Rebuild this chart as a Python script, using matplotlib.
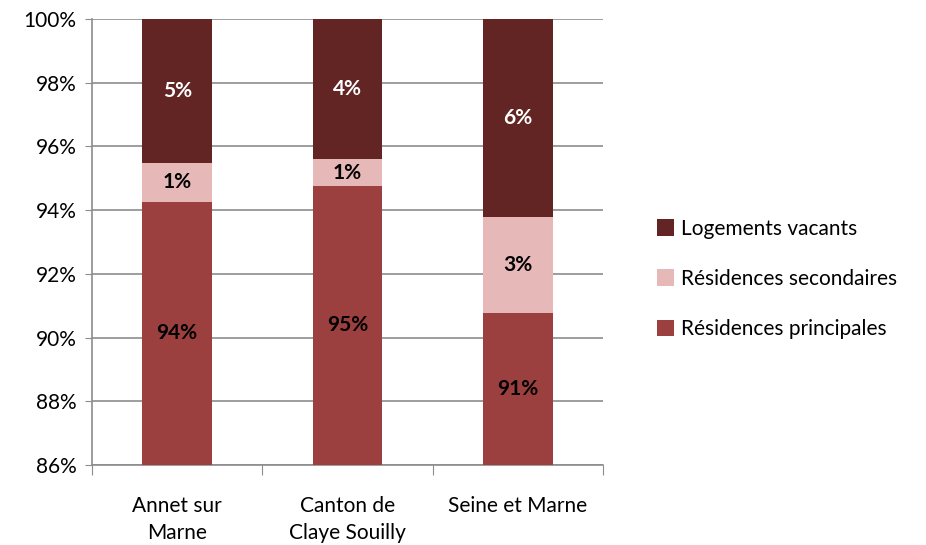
import numpy as np
import matplotlib.pyplot as plt
from matplotlib.ticker import FuncFormatter, FixedLocator, NullFormatter

plt.rcParams["font.family"] = ["Lato", "DejaVu Sans"]

# données
categories = ["Annet sur\nMarne", "Canton de\nClaye Souilly", "Seine et Marne"]
principales = [94.26, 94.76, 90.77]
secondaires = [1.22, 0.84, 3.02]
vacants = [4.52, 4.40, 6.21]
series_names = ["Résidences principales", "Résidences secondaires", "Logements vacants"]
colors = ["#9C403F", "#E6B8B7", "#632523"]
label_colors = ["black", "black", "white"]

fig = plt.figure(figsize=(9.26, 5.45), dpi=100)
ax = fig.add_axes([92 / 926, 1 - 465 / 545, (603 - 92) / 926, (465 - 19) / 545])

x = np.arange(len(categories))
ymin, ymax = 86, 100
bottom = np.zeros(len(categories))
handles = []
for vals, name, col, lc in zip([principales, secondaires, vacants], series_names, colors, label_colors):
    vals = np.array(vals)
    b = ax.bar(x, vals, width=0.41, bottom=bottom, color=col, label=name, zorder=3)
    handles.append(b)
    for xi, bt, v in zip(x, bottom, vals):
        lo = max(bt, ymin)
        hi = min(bt + v, ymax)
        ax.text(xi, (lo + hi) / 2, f"{round(v):.0f}%", ha="center", va="center",
                color=lc, fontsize=15, fontweight="bold", zorder=4)
    bottom = bottom + vals

ax.set_ylim(ymin, ymax)
ax.set_xlim(-0.5, 2.5)
ax.set_yticks(np.arange(86, 101, 2))
ax.yaxis.set_major_formatter(FuncFormatter(lambda v, p: f"{v:.0f}%"))
ax.yaxis.grid(True, color="#8c8c8c", linewidth=1.2, zorder=0)
ax.tick_params(axis="y", length=5, color="#8c8c8c", labelsize=15, direction="out", pad=6)

# x ticks: marks at boundaries, labels centered
ax.xaxis.set_major_locator(FixedLocator([-0.5, 0.5, 1.5, 2.5]))
ax.xaxis.set_major_formatter(NullFormatter())
ax.tick_params(axis="x", which="major", length=7, color="#8c8c8c")
ax.set_xticks(x, minor=True)
ax.set_xticklabels(categories, minor=True, linespacing=1.45)
ax.tick_params(axis="x", which="minor", length=0, labelsize=15, pad=22)

for s in ["top", "right"]:
    ax.spines[s].set_visible(False)
for s in ["left", "bottom"]:
    ax.spines[s].set_color("#8c8c8c")
    ax.spines[s].set_linewidth(1.2)

leg = fig.legend(handles[::-1], series_names[::-1], loc="center left",
                 bbox_to_anchor=(638 / 926, 1 - 279 / 545), frameon=False,
                 fontsize=15, handlelength=0.85, handleheight=0.85,
                 handletextpad=0.3, labelspacing=1.45)

fig.savefig("out.png", dpi=100)
